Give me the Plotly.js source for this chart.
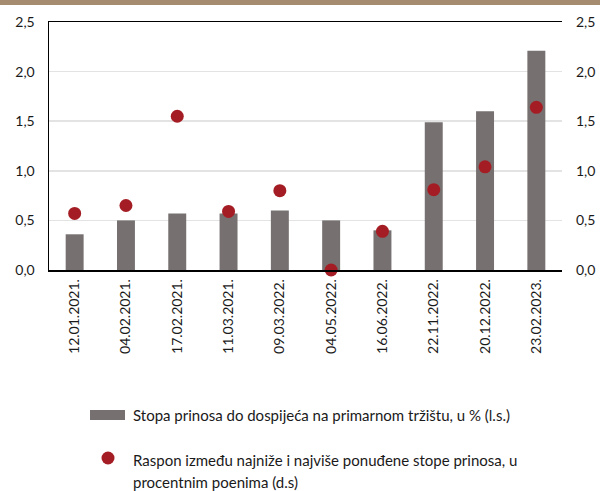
<!DOCTYPE html>
<html>
<head>
<meta charset="utf-8">
<script src="https://cdn.plot.ly/plotly-3.0.1.min.js"></script>
<style>html,body{margin:0;padding:0;background:#fff;}#chart{width:600px;height:491px;}</style>
</head>
<body>
<div id="chart"></div>
<script>
const categories = ["12.01.2021.","04.02.2021.","17.02.2021.","11.03.2021.","09.03.2022.","04.05.2022.","16.06.2022.","22.11.2022.","20.12.2022.","23.02.2023."];
const yieldRate = [0.36, 0.50, 0.57, 0.57, 0.60, 0.50, 0.40, 1.49, 1.60, 2.21];
const spread = [0.57, 0.65, 1.55, 0.59, 0.80, 0.00, 0.39, 0.81, 1.04, 1.64];
const yTicks = [0, 0.5, 1, 1.5, 2, 2.5];
const yTickLabels = ["0,0","0,5","1,0","1,5","2,0","2,5"];
const barName = "Stopa prinosa do dospijeća na primarnom tržištu, u % (l.s.)";
const dotLine1 = "Raspon između najniže i najviše ponuđene stope prinosa, u";
const dotLine2 = "procentnim poenima (d.s)";

const FONT = "Lato, 'Open Sans', sans-serif";
const barColor = "#767170";
const dotColor = "#a51d24";
const txt = "#1a1a1a";

const traces = [
  {type:"bar", x:categories, y:yieldRate, name:barName, marker:{color:barColor}, width:0.35, yaxis:"y"},
  {type:"scatter", mode:"markers", x:categories, y:spread, name:dotLine1 + " " + dotLine2, marker:{color:dotColor, size:13}, yaxis:"y2", cliponaxis:false}
];

const py = p => (270 - p) / 248;
const px = p => (p - 49) / 513;

const layout = {
  width:600, height:491,
  margin:{l:49, r:38, t:22, b:221, pad:0},
  paper_bgcolor:"#fff", plot_bgcolor:"#fff",
  showlegend:false,
  font:{family:FONT, size:14, color:txt},
  xaxis:{type:"category", range:[-0.5, 9.5], tickangle:-90, showline:true, linecolor:"#000", linewidth:1.5, mirror:true,
         ticks:"", showgrid:false, tickfont:{family:FONT, size:14, color:txt}, ticklabelstandoff:2, automargin:false},
  yaxis:{range:[0,2.5], tickvals:yTicks, ticktext:yTickLabels, showline:true, linecolor:"#000", linewidth:1.5,
         showgrid:true, gridcolor:"#e3e3e3", gridwidth:1.5, zeroline:false, ticks:"",
         ticklabelstandoff:10, tickfont:{family:FONT, size:14, color:txt}, automargin:false},
  yaxis2:{range:[0,2.5], tickvals:yTicks, ticktext:yTickLabels, overlaying:"y", side:"right", showline:false,
          showgrid:false, zeroline:false, ticks:"", ticklabelstandoff:13,
          tickfont:{family:FONT, size:14, color:txt}, automargin:false},
  shapes:[
    {type:"rect", xref:"paper", yref:"paper", x0:px(0), x1:px(600), y0:py(5), y1:py(0), fillcolor:"#a58b6f", line:{width:0}, layer:"above"},
    {type:"rect", xref:"paper", yref:"paper", x0:px(90), x1:px(125), y0:py(420), y1:py(410), fillcolor:barColor, line:{width:0}},
    {type:"circle", xref:"paper", yref:"paper", x0:px(101.5), x1:px(114.5), y0:py(464.5), y1:py(451.5), fillcolor:dotColor, line:{width:0}}
  ],
  annotations:[
    {xref:"paper", yref:"paper", x:px(131), y:py(415), xanchor:"left", yanchor:"middle", showarrow:false, align:"left",
     text:barName, font:{family:FONT, size:15, color:txt}},
    {xref:"paper", yref:"paper", x:px(131), y:py(460), xanchor:"left", yanchor:"middle", showarrow:false, align:"left",
     text:dotLine1, font:{family:FONT, size:15, color:txt}},
    {xref:"paper", yref:"paper", x:px(131), y:py(482), xanchor:"left", yanchor:"middle", showarrow:false, align:"left",
     text:dotLine2, font:{family:FONT, size:15, color:txt}}
  ]
};

Plotly.newPlot("chart", traces, layout, {staticPlot:true, displayModeBar:false});
</script>
</body>
</html>
